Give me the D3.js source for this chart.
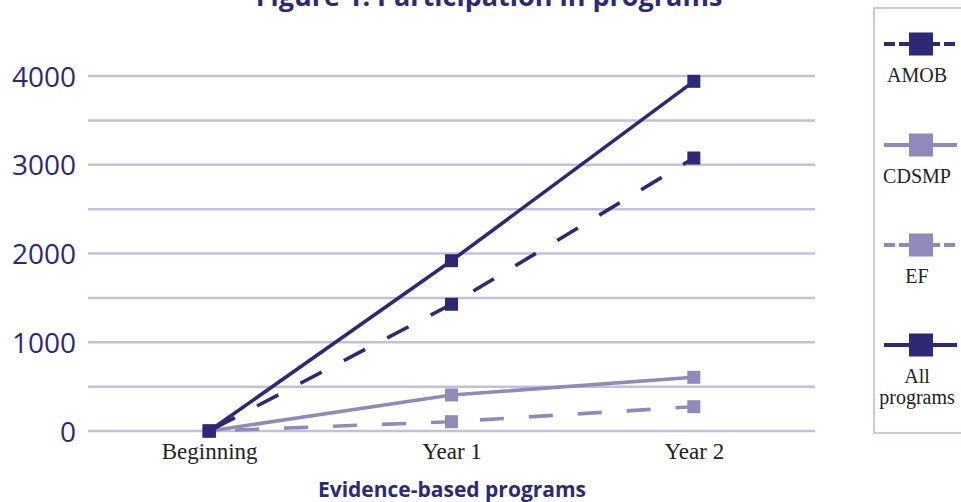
<!DOCTYPE html>
<html lang="en">
<head>
  <meta charset="UTF-8">
  <title>Figure 1: Participation in programs</title>
  <script src="https://cdn.jsdelivr.net/npm/d3@7"></script>
  <style>
    body { margin: 0; background: #fff; }
    svg { display: block; }
  </style>
</head>
<body>
  <div id="chart"></div>

  <script>
    const categories = ['Beginning', 'Year 1', 'Year 2'];
    const amob = [0, 1428, 3076];
    const cdsmp = [0, 406, 605];
    const ef = [0, 105, 274];
    const allPrograms = [0, 1919, 3940];
    const yTicks = [0, 1000, 2000, 3000, 4000];
    const seriesNames = ['AMOB', 'CDSMP', 'EF', 'All programs'];

    const width = 961, height = 502;
    const navy = '#2d2977', lilac = '#9189bb', grid = '#c4c0dc';

    const svg = d3.select('#chart')
      .append('svg')
        .attr('width', width)
        .attr('height', height);

    const x = d3.scalePoint()
      .domain(categories)
      .range([88, 815])
      .padding(0.5);

    const y = d3.scaleLinear()
      .domain([0, 4000])
      .range([431, 76]);

    // gridlines every 500
    svg.append('g')
      .selectAll('line')
      .data(d3.range(0, 4001, 500))
      .join('line')
        .attr('x1', 88)
        .attr('x2', 815)
        .attr('y1', d => y(d))
        .attr('y2', d => y(d))
        .attr('stroke', grid)
        .attr('stroke-width', 2.5);

    // y axis labels
    const yAxis = svg.append('g')
      .attr('transform', 'translate(76,0)')
      .call(d3.axisLeft(y).tickValues(yTicks).tickFormat(d3.format('d')).tickSize(0).tickPadding(0));
    yAxis.select('.domain').remove();
    yAxis.selectAll('text')
      .attr('fill', navy)
      .attr('font-family', '"Open Sans", sans-serif')
      .attr('font-size', 28)
      .attr('dy', '0.36em');

    // x axis labels
    const xAxis = svg.append('g')
      .attr('transform', 'translate(0,441)')
      .call(d3.axisBottom(x).tickSize(0).tickPadding(0));
    xAxis.select('.domain').remove();
    xAxis.selectAll('text')
      .attr('fill', '#222')
      .attr('font-family', '"Liberation Serif", serif')
      .attr('font-size', 23)
      .attr('dy', '0.8em');

    // titles
    svg.append('text')
      .attr('x', 489)
      .attr('y', 6)
      .attr('text-anchor', 'middle')
      .attr('fill', navy)
      .attr('font-family', '"Open Sans", sans-serif')
      .attr('font-weight', 'bold')
      .attr('font-size', 27)
      .text('Figure 1: Participation in programs');

    svg.append('text')
      .attr('x', 452)
      .attr('y', 497)
      .attr('text-anchor', 'middle')
      .attr('fill', navy)
      .attr('font-family', '"Open Sans", sans-serif')
      .attr('font-weight', 'bold')
      .attr('font-size', 21)
      .text('Evidence-based programs');

    const series = [
      { name: seriesNames[0], values: amob, color: navy, dash: '24,25', offset: 44 },
      { name: seriesNames[1], values: cdsmp, color: lilac, dash: null, offset: 0 },
      { name: seriesNames[2], values: ef, color: lilac, dash: '24,25', offset: 23 },
      { name: seriesNames[3], values: allPrograms, color: navy, dash: null, offset: 0 }
    ];

    const line = d3.line()
      .x((d, i) => x(categories[i]))
      .y(d => y(d));

    const plot = svg.append('g');
    // draw light series first, then dark on top
    const order = [series[2], series[1], series[0], series[3]];

    order.forEach(s => {
      plot.append('path')
        .datum(s.values)
        .attr('d', line)
        .attr('fill', 'none')
        .attr('stroke', s.color)
        .attr('stroke-width', 3.6)
        .attr('stroke-dasharray', s.dash)
        .attr('stroke-dashoffset', s.offset);

      plot.selectAll(null)
        .data(s.values)
        .join('rect')
          .attr('x', (d, i) => x(categories[i]) - 6.5)
          .attr('y', d => y(d) - 6.5)
          .attr('width', 13)
          .attr('height', 13)
          .attr('fill', s.color);
    });

    // legend
    const legend = svg.append('g');
    legend.append('rect')
      .attr('x', 874)
      .attr('y', 8)
      .attr('width', 100)
      .attr('height', 425)
      .attr('fill', 'none')
      .attr('stroke', '#ccc8e2')
      .attr('stroke-width', 2);

    const legendY = [44, 145, 245, 345];
    const legendDash = ['11,4', null, '11,4', null];

    series.forEach((s, i) => {
      const g = legend.append('g')
        .attr('transform', `translate(0,${legendY[i]})`);
      g.append('line')
        .attr('x1', 884)
        .attr('x2', 957)
        .attr('stroke', s.color)
        .attr('stroke-width', 4)
        .attr('stroke-dasharray', legendDash[i]);
      g.append('rect')
        .attr('x', 909)
        .attr('y', -11.5)
        .attr('width', 24)
        .attr('height', 23)
        .attr('fill', s.color);
      const words = s.name === 'All programs' ? ['All', 'programs'] : [s.name];
      g.selectAll('text')
        .data(words)
        .join('text')
          .attr('x', 917)
          .attr('y', (d, j) => 38 + j * 21)
          .attr('text-anchor', 'middle')
          .attr('fill', '#222')
          .attr('font-family', '"Liberation Serif", serif')
          .attr('font-size', 20)
          .text(d => d);
    });
  </script>
</body>
</html>
